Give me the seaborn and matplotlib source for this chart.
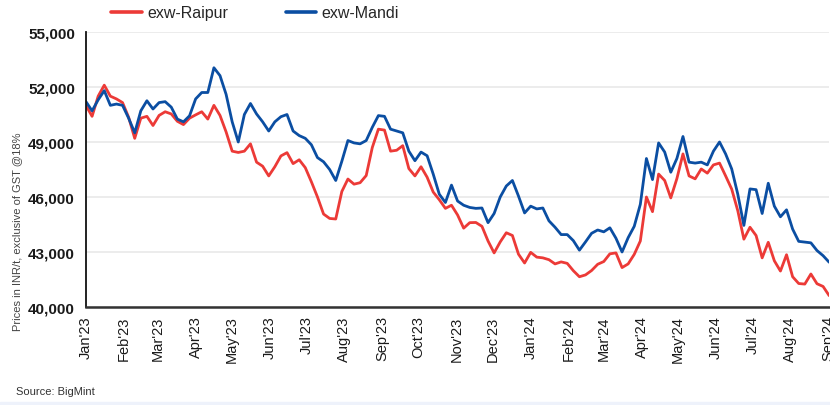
import numpy as np
import pandas as pd
import matplotlib
matplotlib.use("Agg")
import matplotlib.pyplot as plt
import matplotlib.dates as mdates
from matplotlib.ticker import FuncFormatter, FixedLocator
from matplotlib.lines import Line2D
import seaborn as sns

# ---- data (5-day sampling, Jan 2023 - Sep 2024), INR/t ----
start_date = "2023-01-01"
step_days = 5

raipur = [
    50990, 50400, 51500, 52100, 51500, 51350, 51150, 50350, 49200, 50300,
    50400, 49900, 50450, 50650, 50530, 50130, 49950, 50300, 50480, 50650,
    50250, 51000, 50450, 49550, 48500, 48430, 48500, 48900, 47900, 47680,
    47150, 47650, 48240, 48420, 47820, 48030, 47600, 46830, 46000, 45070,
    44830, 44800, 46300, 46980, 46700, 46780, 47170, 48700, 49700, 49650,
    48500, 48550, 48800, 47550, 47150, 47650, 47080, 46270, 45850, 45380,
    45550, 45020, 44300, 44600, 44610, 44400, 43600, 42950, 43550, 44050,
    43900, 42880, 42400, 42980, 42720, 42680, 42580, 42350, 42460, 42380,
    41980, 41650, 41750, 41990, 42330, 42480, 42900, 42950, 42150, 42350,
    42870, 43600, 46000, 45200, 47250, 46900, 45950, 47000, 48350, 47150,
    46990, 47530, 47300, 47750, 47850, 47150, 46430, 45250, 43700, 44350,
    43900, 42680, 43530, 42520, 41960, 42850, 41650, 41280, 41250, 41800,
    41270, 41120, 40620,
]

mandi = [
    51200, 50700, 51300, 51800, 51000, 51070, 51000, 50300, 49500, 50700,
    51250, 50800, 51150, 51200, 50900, 50250, 50100, 50430, 51350, 51700,
    51700, 53050, 52620, 51600, 50100, 49000, 50500, 51100, 50530, 50100,
    49600, 50100, 50380, 50500, 49600, 49350, 49200, 48850, 48150, 47920,
    47500, 46900, 47950, 49080, 48950, 48900, 49080, 49800, 50440, 50400,
    49700, 49600, 49500, 48500, 47980, 48450, 48250, 47250, 46150, 45700,
    46650, 45780, 45550, 45430, 45380, 45400, 44600, 45100, 46000, 46600,
    46900, 46050, 45130, 45500, 45350, 45400, 44700, 44350, 43950, 43950,
    43620, 43100, 43550, 44020, 44200, 44100, 44320, 43750, 43000, 43780,
    44400, 45600, 48100, 46950, 48950, 48450, 47350, 48100, 49300, 47900,
    47850, 47900, 47750, 48500, 49000, 48350, 47530, 46150, 44450, 46440,
    46400, 45100, 46750, 45500, 44920, 45300, 44250, 43580, 43540, 43500,
    43080, 42800, 42440,
]

series_names = ["exw-Raipur", "exw-Mandi"]
series_colors = ["#EC3A37", "#0B4EA2"]
y_ticks = [40000, 43000, 46000, 49000, 52000, 55000]
y_label = "Prices in INR/t, exclusive of GST @18%"
source_text = "Source: BigMint"

dates = pd.date_range(start_date, periods=len(raipur), freq=f"{step_days}D")
df = pd.concat([
    pd.DataFrame({"date": dates, "price": raipur, "series": series_names[0]}),
    pd.DataFrame({"date": dates, "price": mandi, "series": series_names[1]}),
])

sns.set_style("white")
plt.rcParams["font.family"] = ["Liberation Sans", "DejaVu Sans"]

fig = plt.figure(figsize=(8.30, 4.06), dpi=100)
ax = fig.add_axes([0.1036, 0.2414, 0.8954, 0.6773])

sns.lineplot(data=df, x="date", y="price", hue="series",
             hue_order=series_names, palette=series_colors,
             linewidth=2.0, ax=ax, legend=False)

ax.set_ylim(40000, 55000)
ax.yaxis.set_major_locator(FixedLocator(y_ticks))
ax.yaxis.set_major_formatter(FuncFormatter(lambda v, p: f"{int(v):,}"))
ax.set_xlim(pd.Timestamp("2023-01-01"), pd.Timestamp("2024-09-02"))
ax.xaxis.set_major_locator(mdates.MonthLocator())
ax.xaxis.set_major_formatter(mdates.DateFormatter("%b'%y"))

ax.grid(axis="y", color="#e9e9e9", linewidth=1.2)
ax.grid(axis="x", visible=False)
ax.set_axisbelow(True)
for s in ["top", "right"]:
    ax.spines[s].set_visible(False)
ax.spines["left"].set_color("#111111")
ax.spines["left"].set_linewidth(1.3)
ax.spines["bottom"].set_color("#333333")
ax.spines["bottom"].set_linewidth(1.8)

ax.tick_params(axis="y", length=0, labelsize=11, labelcolor="#1a1a1a", pad=8)
ax.tick_params(axis="x", length=4, width=1.2, color="#333333", labelsize=10.5,
               labelcolor="#1a1a1a", rotation=90, pad=2, direction="out")
for lbl in ax.get_yticklabels():
    lbl.set_fontweight("semibold")

ax.set_xlabel("")
ax.set_ylabel("")
fig.text(0.021, 0.43, y_label, rotation=90, ha="center", va="center",
         fontsize=8, color="#444444")
fig.text(0.019, 0.035, source_text, ha="left", va="center",
         fontsize=8, color="#333333")

handles = [Line2D([0], [0], color=c, lw=2.6) for c in series_colors]
fig.legend(handles, series_names, loc="center left",
           bbox_to_anchor=(0.117, 0.966), ncol=2, frameon=False,
           fontsize=11.5, handlelength=1.9, handletextpad=0.35,
           columnspacing=3.6)

fig.patches.append(plt.Rectangle((0, 0), 1, 0.008, transform=fig.transFigure,
                                 color="#eef2fb", zorder=-1))

fig.savefig("out.png", dpi=100)
